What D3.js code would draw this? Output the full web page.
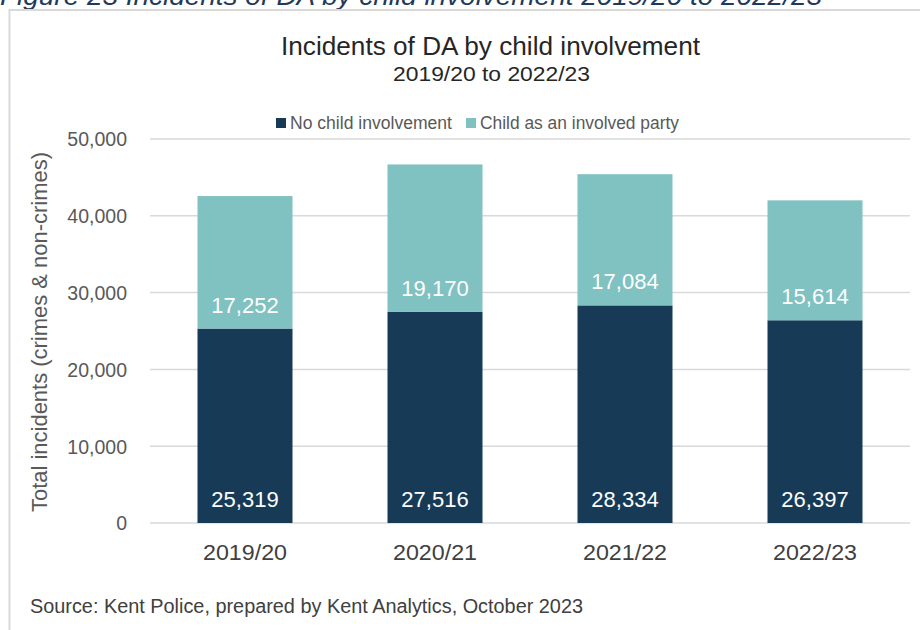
<!DOCTYPE html>
<html>
<head>
<meta charset="utf-8">
<script src="https://cdn.jsdelivr.net/npm/d3@7"></script>
<style>
  html, body { margin: 0; padding: 0; background: #fff; }
  svg { display: block; }
</style>
</head>
<body>
<svg id="chart" width="920" height="630"></svg>
<script>
const categories = ["2019/20", "2020/21", "2021/22", "2022/23"];
const noChild = [25319, 27516, 28334, 26397];
const childInvolved = [17252, 19170, 17084, 15614];
const seriesNames = ["No child involvement", "Child as an involved party"];
const yTicks = [0, 10000, 20000, 30000, 40000, 50000];

const colors = ["#173b57", "#80c1c1"];
const font = "'Liberation Sans', Arial, sans-serif";

const svg = d3.select("#chart");

// condensed text helper (mimics a narrow face)
function narrowText(sel, len) {
  return sel.attr("textLength", len).attr("lengthAdjust", "spacingAndGlyphs");
}

// caption (cut off at top, as in the source page)
narrowText(svg.append("text")
  .attr("x", 0).attr("y", 5)
  .attr("font-family", font).attr("font-style", "italic")
  .attr("font-size", 25).attr("fill", "#1f3a5c")
  .text("Figure 23 Incidents of DA by child involvement 2019/20 to 2022/23"), 822);

// frame
svg.append("path")
  .attr("d", "M9.5,640 V10 H930")
  .attr("fill", "none").attr("stroke", "#d9d9d9").attr("stroke-width", 2);

const x = d3.scaleBand().domain(categories).range([150, 910]).paddingInner(0.5).paddingOuter(0.25);
const y = d3.scaleLinear().domain([0, 50000]).range([523, 139]);

// gridlines
svg.append("g").selectAll("line").data(yTicks).join("line")
  .attr("x1", 150).attr("x2", 910)
  .attr("y1", d => y(d)).attr("y2", d => y(d))
  .attr("stroke", "#d9d9d9").attr("stroke-width", 1.5);

// y axis
const yAxis = d3.axisLeft(y).tickValues(yTicks).tickSize(0).tickPadding(0)
  .tickFormat(d3.format(","));
const yg = svg.append("g").attr("transform", "translate(127,0)").call(yAxis);
yg.select(".domain").remove();
yg.selectAll("text").attr("font-family", font).attr("font-size", 19.5)
  .attr("fill", "#595959").attr("dy", "0.35em");

// x axis
const xAxis = d3.axisBottom(x).tickSize(0).tickPadding(0);
const xg = svg.append("g").attr("transform", "translate(0,523)").call(xAxis);
xg.select(".domain").remove();
xg.selectAll("text").attr("font-family", font).attr("font-size", 22)
  .attr("fill", "#404040").attr("dy", null).attr("y", 37)
  .attr("textLength", 84).attr("lengthAdjust", "spacingAndGlyphs");

// stacked data
const data = categories.map((c, i) => ({cat: c, a: noChild[i], b: childInvolved[i]}));
const stack = d3.stack().keys(["a", "b"])(data);

const g = svg.append("g");
stack.forEach((layer, li) => {
  g.append("g").selectAll("rect").data(layer).join("rect")
    .attr("x", d => x(d.data.cat))
    .attr("width", x.bandwidth())
    .attr("y", d => y(d[1]))
    .attr("height", d => y(d[0]) - y(d[1]))
    .attr("fill", colors[li]);
  g.append("g").selectAll("text").data(layer).join("text")
    .attr("x", d => x(d.data.cat) + x.bandwidth() / 2)
    .attr("y", d => y(d[0]) - 16)
    .attr("text-anchor", "middle")
    .attr("font-family", font).attr("font-size", 22)
    .attr("fill", "#ffffff")
    .text(d => d3.format(",")(d[1] - d[0]));
});

// y axis title
narrowText(svg.append("text")
  .attr("transform", "translate(47,332) rotate(-90)")
  .attr("text-anchor", "middle")
  .attr("font-family", font).attr("font-size", 21.5)
  .attr("fill", "#595959")
  .text("Total incidents (crimes & non-crimes)"), 360);

// title
narrowText(svg.append("text").attr("x", 490.5).attr("y", 55).attr("text-anchor", "middle")
  .attr("font-family", font).attr("font-size", 25.5).attr("fill", "#262626")
  .text("Incidents of DA by child involvement"), 419);
narrowText(svg.append("text").attr("x", 491.5).attr("y", 81).attr("text-anchor", "middle")
  .attr("font-family", font).attr("font-size", 20).attr("fill", "#262626")
  .text("2019/20 to 2022/23"), 197);

// legend
const legendX = [276, 466];
const legendLen = [162, 199];
const lg = svg.append("g");
seriesNames.forEach((name, i) => {
  lg.append("rect").attr("x", legendX[i]).attr("y", 118).attr("width", 10).attr("height", 10)
    .attr("fill", colors[i]);
  narrowText(lg.append("text").attr("x", legendX[i] + 14).attr("y", 129)
    .attr("font-family", font).attr("font-size", 17.5).attr("fill", "#595959")
    .text(name), legendLen[i]);
});

// source
narrowText(svg.append("text").attr("x", 30).attr("y", 613)
  .attr("font-family", font).attr("font-size", 20).attr("fill", "#404040")
  .text("Source: Kent Police, prepared by Kent Analytics, October 2023"), 553);
</script>
</body>
</html>
